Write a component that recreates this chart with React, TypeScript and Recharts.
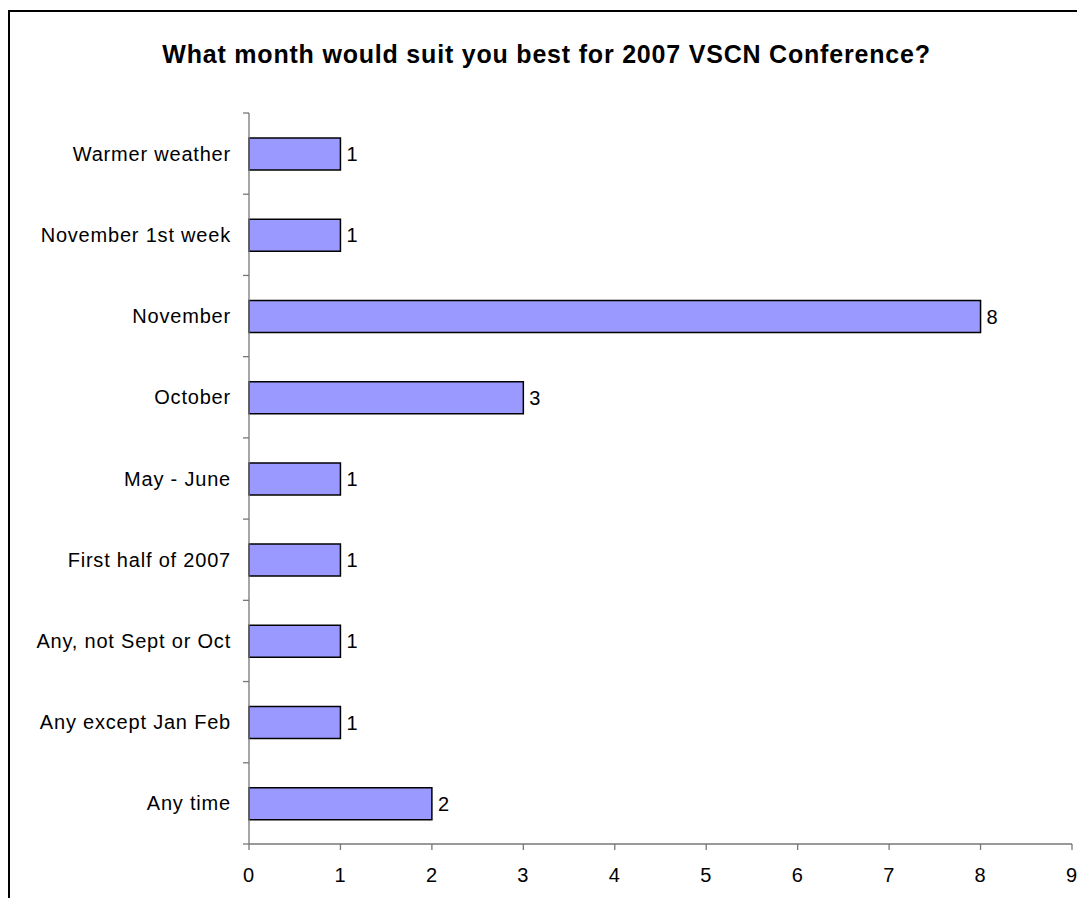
import React from "react";
import { Bar, BarChart, LabelList, XAxis, YAxis } from "recharts";

const categories = [
  "Warmer weather",
  "November 1st week",
  "November",
  "October",
  "May - June",
  "First half of 2007",
  "Any, not Sept or Oct",
  "Any except Jan Feb",
  "Any time",
];
const votes = [1, 1, 8, 3, 1, 1, 1, 1, 2];
const xTicks = [0, 1, 2, 3, 4, 5, 6, 7, 8, 9];

const data = categories.map((name, i) => ({ name, votes: votes[i] }));

const FONT = '"Liberation Sans", Arial, sans-serif';
const AXIS = "#777";
const TICK_SIZE = 6;
const TICK_MARGIN = 12;

// category label at band centre, tick mark at the band's upper boundary (Excel style)
function CategoryTick(props: any) {
  const { x, y, payload, index } = props;
  const axisX = x + TICK_SIZE + TICK_MARGIN;
  const half = payload.offset ?? 0;
  return (
    <g>
      <line x1={axisX - TICK_SIZE} x2={axisX} y1={y - half} y2={y - half} stroke={AXIS} strokeWidth={1.3} />
      {index === categories.length - 1 && (
        <line x1={axisX - TICK_SIZE} x2={axisX} y1={y + half} y2={y + half} stroke={AXIS} strokeWidth={1.3} />
      )}
      <text x={x} y={y} dy="0.35em" textAnchor="end" fill="#000" fontSize={20} letterSpacing={0.8} fontFamily={FONT}>
        {payload.value}
      </text>
    </g>
  );
}

export default function App() {
  return (
    <div style={{ position: "relative", width: 1077, height: 898, marginBottom: -8, fontFamily: FONT }}>
      <div
        style={{
          position: "absolute",
          top: 2,
          left: 0,
          width: 1077,
          height: 896,
          borderTop: "2px solid #000",
          borderLeft: "2px solid #000",
          boxSizing: "border-box",
        }}
      />
      <div
        style={{
          position: "absolute",
          top: 32,
          left: 0,
          width: 1077,
          textAlign: "center",
          fontSize: 25,
          fontWeight: "bold",
          letterSpacing: 0.8,
          color: "#000",
        }}
      >
        What month would suit you best for 2007 VSCN Conference?
      </div>
      <div style={{ position: "absolute", top: 0, left: 0 }}>
        <BarChart
          width={1077}
          height={880}
          data={data}
          layout="vertical"
          margin={{ top: 105, right: 13, bottom: 4, left: 0 }}
        >
          <XAxis
            type="number"
            domain={[0, 9]}
            ticks={xTicks}
            interval={0}
            height={40}
            stroke={AXIS}
            strokeWidth={1.3}
            tickSize={6}
            tickMargin={18}
            tick={{ fill: "#000", fontSize: 20, fontFamily: FONT, letterSpacing: 0.8 }}
          />
          <YAxis
            type="category"
            dataKey="name"
            width={241}
            interval={0}
            stroke={AXIS}
            strokeWidth={1.3}
            tickLine={false}
            tickSize={TICK_SIZE}
            tickMargin={TICK_MARGIN}
            tick={<CategoryTick />}
          />
          <Bar dataKey="votes" fill="#9999FF" stroke="#000" strokeWidth={1.5} barSize={32} isAnimationActive={false}>
            <LabelList
              dataKey="votes"
              position="right"
              offset={6}
              fill="#000"
              fontSize={20}
              fontFamily={FONT}
            />
          </Bar>
        </BarChart>
      </div>
    </div>
  );
}
